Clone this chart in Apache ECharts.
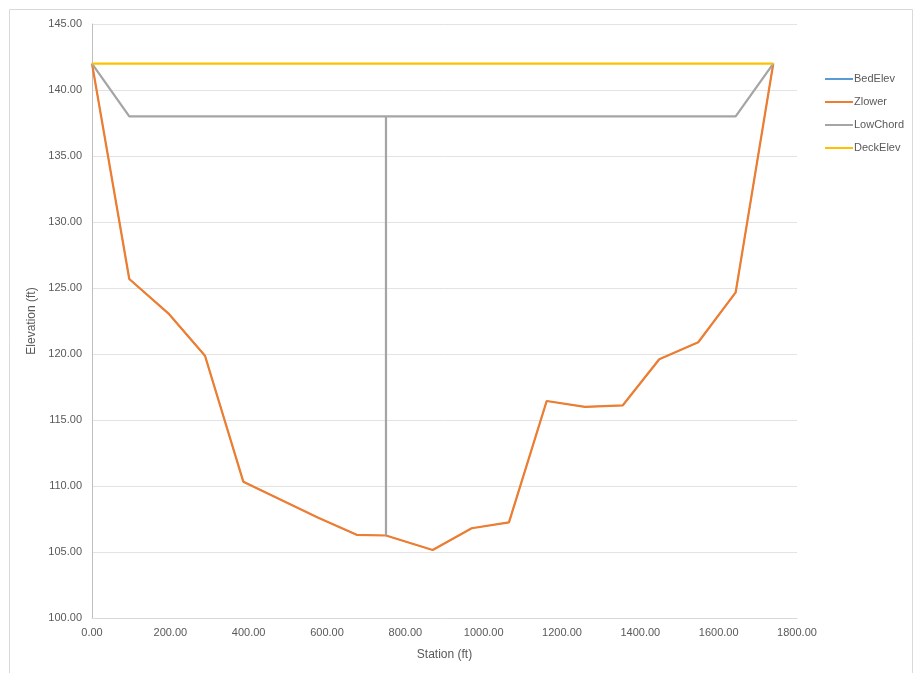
<!DOCTYPE html>
<html><head><meta charset="utf-8">
<script src="https://cdn.jsdelivr.net/npm/echarts@6/dist/echarts.min.js"></script>
<style>html,body{margin:0;padding:0;background:#fff}#c{width:918px;height:673px}</style>
</head><body><div id="c"></div>
<script>
const stations = [0, 95.2, 194.8, 288.5, 386.3, 577.7, 675.8, 750.6, 869.8, 969.4, 1064.6, 1160.9, 1258.7, 1354.9, 1448.3, 1547.9, 1643.4, 1739.4];
const bedElev = [142.0, 125.68, 123.08, 119.87, 110.33, 107.6, 106.3, 106.25, 105.15, 106.8, 107.25, 116.44, 116.0, 116.1, 119.6, 120.89, 124.67, 142.0];
const zLower = [142.0, 125.68, 123.08, 119.87, 110.33, 107.6, 106.3, 106.25, 105.15, 106.8, 107.25, 116.44, 116.0, 116.1, 119.6, 120.89, 124.67, 142.0];
const lowChordX = [0, 95.2, 750.6, 750.6, 750.6, 1643.4, 1739.4];
const lowChordY = [142.0, 138.0, 138.0, 106.25, 138.0, 138.0, 142.0];
const deckX = [0, 1739.4];
const deckY = [142.0, 142.0];
const seriesNames = ['BedElev', 'Zlower', 'LowChord', 'DeckElev'];

const pair = (xs, ys) => xs.map((x, i) => [x, ys[i]]);
const font = 'Liberation Sans, Arial, sans-serif';
const chart = echarts.init(document.getElementById('c'), null, {renderer: 'canvas'});
const colors = ['#5B9BD5', '#ED7D31', '#A5A5A5', '#FFC000'];
const mk = (name, data, color, z, w) => ({
  name, type: 'line', data, showSymbol: false, symbol: 'none', z,
  lineStyle: {color, width: w}, itemStyle: {color}, animation: false
});
chart.setOption({
  animation: false,
  graphic: [{type: 'rect', shape: {x: 9.5, y: 9.5, width: 903, height: 670}, style: {fill: 'none', stroke: '#D9D9D9', lineWidth: 1}, silent: true}],
  grid: {left: 92, right: 121, top: 24, bottom: 55, containLabel: false},
  legend: {
    orient: 'vertical', left: 820, top: 67, itemGap: 9, itemWidth: 28, itemHeight: 14,
    icon: 'path://M0,6L28,6L28,8L0,8Z',
    data: seriesNames,
    textStyle: {color: '#595959', fontSize: 11, fontFamily: font, padding: [0, 0, 0, -4], lineHeight: 14}
  },
  xAxis: {
    type: 'value', min: 0, max: 1800, interval: 200,
    name: 'Station (ft)', nameLocation: 'middle', nameGap: 31,
    nameTextStyle: {color: '#595959', fontSize: 12, fontFamily: font},
    axisLine: {show: true, lineStyle: {color: '#D9D9D9', width: 1}},
    axisTick: {show: false},
    splitLine: {show: false},
    axisLabel: {color: '#595959', fontSize: 11, fontFamily: font, margin: 9, formatter: v => v.toFixed(2)}
  },
  yAxis: {
    type: 'value', min: 100, max: 145, interval: 5,
    name: 'Elevation (ft)', nameLocation: 'middle', nameGap: 50, nameRotate: 90,
    nameTextStyle: {color: '#595959', fontSize: 12, fontFamily: font},
    axisLine: {show: true, lineStyle: {color: '#BFBFBF', width: 1}},
    axisTick: {show: false},
    splitLine: {show: true, lineStyle: {color: '#E3E3E3', width: 1}},
    axisLabel: {color: '#595959', fontSize: 11, fontFamily: font, margin: 10, formatter: v => v.toFixed(2)}
  },
  series: [
    mk('BedElev', pair(stations, bedElev), colors[0], 2, 1.2),
    mk('Zlower', pair(stations, zLower), colors[1], 3, 2.25),
    mk('LowChord', pair(lowChordX, lowChordY), colors[2], 4, 2.25),
    mk('DeckElev', pair(deckX, deckY), colors[3], 5, 2.25)
  ]
});
</script></body></html>
